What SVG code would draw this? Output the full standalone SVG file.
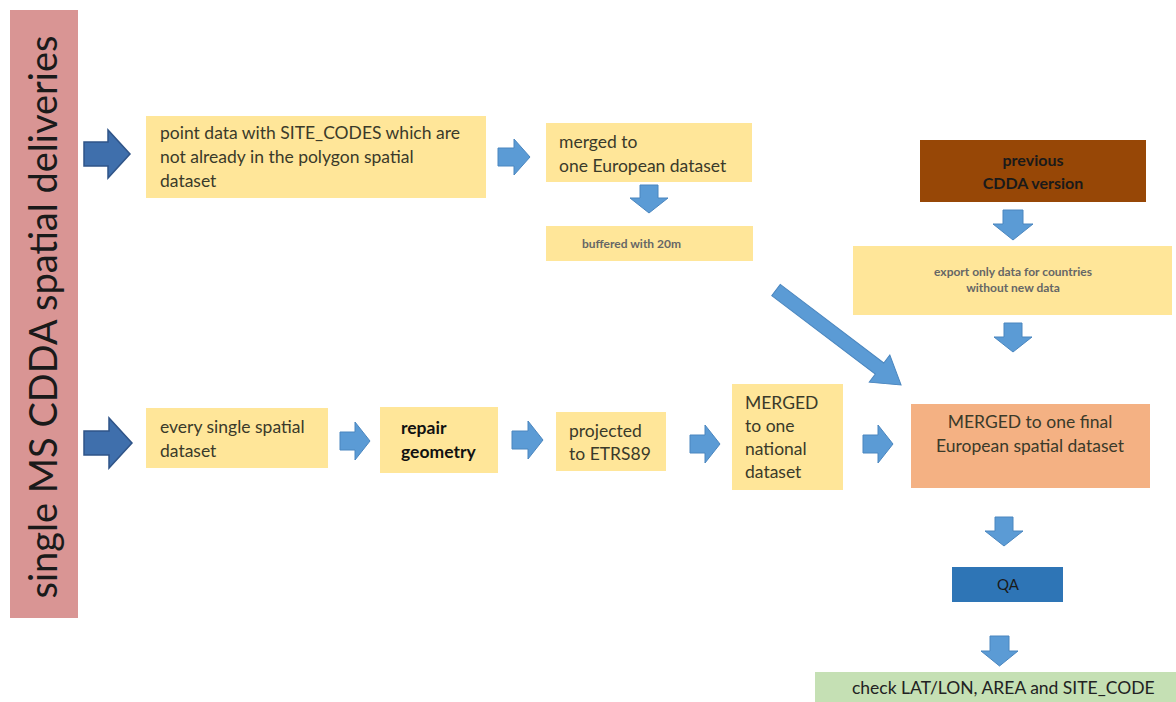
<svg xmlns="http://www.w3.org/2000/svg" width="1176" height="702" viewBox="0 0 1176 702">
<style>
text{font-family:Lato,"Liberation Sans",sans-serif;fill:#3a3a2a;}
.y{fill:#ffe699;}
.t{font-size:17.5px;}
.b{font-weight:bold;}
.s{font-size:12px;font-weight:bold;fill:#666;}
.big{fill:#3f6fac;stroke:#2f5488;stroke-width:1.5;}
.sm{fill:#5b9bd5;stroke:#4a86bf;stroke-width:1;}
</style>
<rect width="1176" height="702" fill="#fff"/>
<g id="side">
<rect x="10" y="10" width="68" height="608" fill="#d99594"/>
<text transform="translate(57,317) rotate(-90)" text-anchor="middle" style="font-size:38px;fill:#1a1a1a">single MS CDDA spatial deliveries</text>
</g>
<g id="n-point">
<rect class="y" x="146" y="116" width="340" height="82"/>
<text class="t" x="160" y="139">point data with SITE_CODES which are</text>
<text class="t" x="160" y="163">not already in the polygon spatial</text>
<text class="t" x="160" y="187">dataset</text>
</g>
<g id="n-merged">
<rect class="y" x="546" y="123" width="206" height="59"/>
<text class="t" x="559" y="148">merged to</text>
<text class="t" x="559" y="172">one European dataset</text>
</g>
<g id="n-buffered">
<rect class="y" x="546" y="226" width="207" height="35"/>
<text class="s" x="582" y="248">buffered with 20m</text>
</g>
<g id="n-previous">
<rect x="920" y="140" width="226" height="62" fill="#974706"/>
<text class="b" x="1033" y="166" text-anchor="middle" style="font-size:16px;fill:#1a1a1a">previous</text>
<text class="b" x="1033" y="189" text-anchor="middle" style="font-size:16px;fill:#1a1a1a">CDDA version</text>
</g>
<g id="n-export">
<rect class="y" x="853" y="246" width="319" height="69"/>
<text class="s" x="1013" y="276" text-anchor="middle">export only data for countries</text>
<text class="s" x="1013" y="292" text-anchor="middle">without new data</text>
</g>
<g id="n-every">
<rect class="y" x="146" y="408" width="182" height="60"/>
<text class="t" x="160" y="433">every single spatial</text>
<text class="t" x="160" y="457">dataset</text>
</g>
<g id="n-repair">
<rect class="y" x="380" y="407" width="118" height="66"/>
<text class="t b" x="401" y="434" style="fill:#111">repair</text>
<text class="t b" x="401" y="458" style="fill:#111">geometry</text>
</g>
<g id="n-projected">
<rect class="y" x="556" y="412" width="110" height="59"/>
<text class="t" x="569" y="437">projected</text>
<text class="t" x="569" y="460">to ETRS89</text>
</g>
<g id="n-national">
<rect class="y" x="732" y="384" width="111" height="106"/>
<text class="t" x="745" y="409">MERGED</text>
<text class="t" x="745" y="432">to one</text>
<text class="t" x="745" y="455">national</text>
<text class="t" x="745" y="478">dataset</text>
</g>
<g id="n-final">
<rect x="911" y="404" width="239" height="84" fill="#f4b183"/>
<text class="t" x="1030" y="428" text-anchor="middle">MERGED to one final</text>
<text class="t" x="1030" y="452" text-anchor="middle">European spatial dataset</text>
</g>
<g id="n-qa">
<rect x="952" y="567" width="111" height="35" fill="#2e75b6"/>
<text x="1008" y="590" text-anchor="middle" style="font-size:15px;fill:#1a1a1a">QA</text>
</g>
<g id="n-check">
<rect x="815" y="672" width="361" height="30" fill="#c5e0b4"/>
<text class="t" x="852" y="694" style="fill:#222">check LAT/LON, AREA and SITE_CODE</text>
</g>
<g id="connectors">
<path class="big" d="M84,142 H108 V130 L130,154 L108,178 V166 H84 Z"/>
<path class="big" d="M84,431 H109 V418 L132,443 L109,468 V455 H84 Z"/>
<path class="sm" d="M498,148 H514 V139 L530,157 L514,175 V166 H498 Z"/>
<path class="sm" d="M640,185 H658 V198 H668 L649,213 L630,198 H640 Z"/>
<path class="sm" d="M1003,210 H1023 V224 H1033 L1013,240 L993,224 H1003 Z"/>
<path class="sm" d="M1004,323 H1022 V337 H1032 L1013,352 L994,337 H1004 Z"/>
<path class="sm" d="M340,432 H355 V422 L370,441 L355,460 V450 H340 Z"/>
<path class="sm" d="M512,431 H528 V421 L543,440 L528,459 V449 H512 Z"/>
<path class="sm" d="M690,435 H705 V425 L720,444 L705,463 V453 H690 Z"/>
<path class="sm" d="M863,435 H878 V425 L893,444 L878,463 V453 H863 Z"/>
<path class="sm" d="M995,517 H1013 V531 H1023 L1004,546 L985,531 H995 Z"/>
<path class="sm" d="M990,636 H1009 V651 H1018 L999.5,666 L981,651 H990 Z"/>
<path class="sm" transform="translate(776,290) rotate(37.2)" d="M0,-7 H130 V-17 L157,0 L130,17 V7 H0 Z"/>
</g>
</svg>
